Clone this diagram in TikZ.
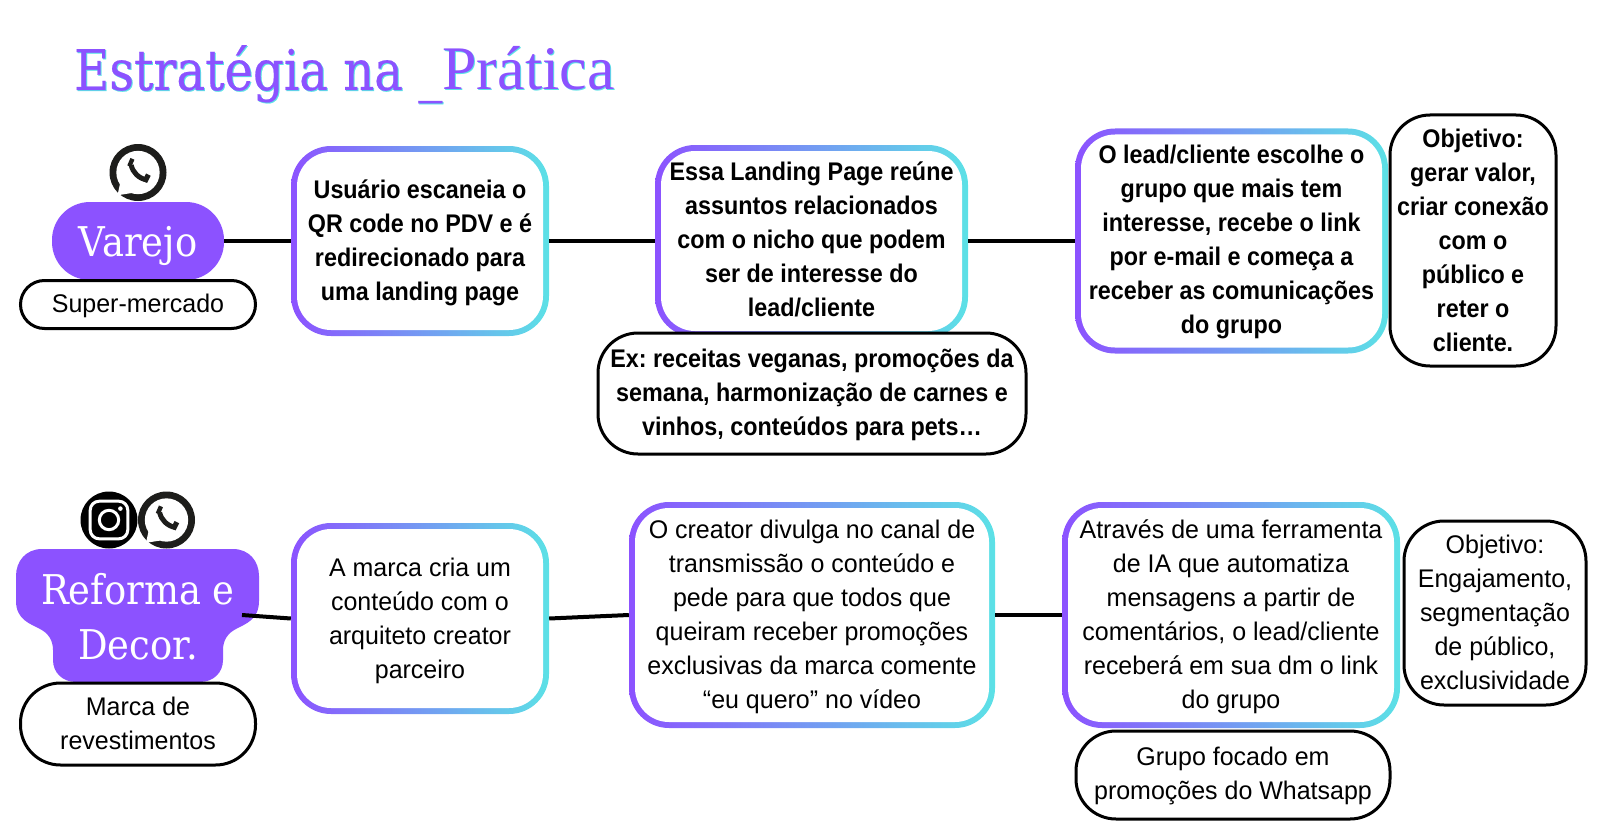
\documentclass[tikz,border=0pt]{standalone}
\usepackage{fontspec}
\setmainfont[FakeStretch=0.98,BoldFeatures={FakeStretch=0.915}]{Liberation Sans}
\newfontfamily\slabfont[FakeStretch=0.9]{DejaVu Serif}
\newfontfamily\slabhead[FakeStretch=0.86,FakeBold=0.4]{DejaVu Serif}
\newfontfamily\slablight{Liberation Serif}
\frenchspacing
\definecolor{purp}{HTML}{8C52FF}
\definecolor{cyanb}{HTML}{5CE1E6}
\definecolor{inkblack}{HTML}{1D1D1B}

\tikzset{
	txt/.style={font=\fontsize{25.5}{34}\selectfont, align=center},
	txtb/.style={font=\fontsize{25.5}{34}\selectfont\bfseries, align=center},
	gradout/.style={rectangle, rounded corners=40pt, left color=purp, right color=cyanb, inner sep=0pt},
	gradin/.style={rectangle, rounded corners=34pt, fill=white, inner sep=0pt},
	blackbox/.style={draw=black, line width=3pt, rounded corners=#1, fill=white, inner sep=0pt},
	tagbox/.style={fill=purp, text=white, font=\slabfont\fontsize{41}{54}\selectfont, align=center, inner sep=0pt},
	link/.style={line width=4pt},
	pics/whatsapp/.style={code={
		\fill[inkblack] (0,0) circle (1);
		\fill[white] (0,0) circle (.76);
		\fill[white] (-.62,.35)--(-.72,.8)--(-.22,.72)--cycle;
		\draw[inkblack, line width=5pt] (-.24,-.26) .. controls (-.18,0) and (.02,.2) .. (.3,.26);
		\draw[inkblack, line width=8pt] (-.32,-.38)--(-.18,-.32);
		\draw[inkblack, line width=8pt] (.22,.16)--(.38,.24);
	}},
	pics/instagram/.style={code={
		\fill[black] (0,0) circle (1);
		\draw[white, line width=3pt, rounded corners=9pt] (-.66,-.66) rectangle (.66,.66);
		\draw[white, line width=3pt] (0,0) circle (.34);
		\fill[white] (.4,-.4) circle (.08);
	}}
}

% Box with a two-colour frame: name, x, y, width, height, text style, text
\newcommand{\gradnode}[7]{
	\node[gradout, minimum width=#4pt, minimum height=#5pt] (#1) at (#2,#3) {};
	\node[gradin, minimum width=#4pt-12pt, minimum height=#5pt-12pt] (#1in) at (#1) {};
	\node[#6, inner sep=0pt] (#1text) at (#1) {#7};
}

\begin{document}
\begin{tikzpicture}[x=1pt,y=-1pt]
\useasboundingbox (0,0) rectangle (1600,840);

% Heading, the pale copy sits behind
\node[anchor=base west, text=cyanb, inner sep=0pt, font=\fontsize{56}{60}\selectfont] (headshadow) at (75,91) {\slabhead Estratégia na \_\slablight\fontsize{62}{60}\selectfont Prática};
\node[anchor=base west, text=purp, inner sep=0pt, font=\fontsize{56}{60}\selectfont] (head) at (74,90) {\slabhead Estratégia na \_\slablight\fontsize{62}{60}\selectfont Prática};

% First row
\pic[scale=28.5] at (138,172.5) {whatsapp};
\node[tagbox, rounded corners=38pt, minimum width=172pt, minimum height=78pt] (varejo) at (138,241) {\raisebox{-15.5pt}[0pt][0pt]{Varejo}};
\node[blackbox=24pt, minimum width=235pt, minimum height=48pt] (mercado) at (138,304.5) {};
\node[txt, inner sep=0pt, yshift=-1pt] (mercadotext) at (mercado) {Super-mercado};

\gradnode{usuario}{420}{241}{258}{190}{txtb, yshift=-2pt}{Usuário escaneia o\\QR code no PDV e é\\redirecionado para\\uma landing page}
\gradnode{landing}{811.5}{241}{313}{192}{txtb, yshift=2pt}{Essa Landing Page reúne\\assuntos relacionados\\com o nicho que podem\\ser de interesse do\\lead/cliente}
\gradnode{grupo}{1231.5}{241}{313}{225}{txtb, yshift=-1pt}{O lead/cliente escolhe o\\grupo que mais tem\\interesse, recebe o link\\por e-mail e começa a\\receber as comunicações\\do grupo}
\node[blackbox=40pt, txtb, minimum width=166pt, minimum height=251pt] (objetivo) at (1473,240.5) {Objetivo:\\gerar valor,\\criar conexão\\com o\\público e\\reter o\\cliente.};
\node[blackbox=40pt, minimum width=428pt, minimum height=121pt] (exemplo) at (812,393.5) {};
\node[txtb, inner sep=0pt, yshift=-1pt] (exemplotext) at (exemplo) {Ex: receitas veganas, promoções da\\semana, harmonização de carnes e\\vinhos, conteúdos para pets…};

\foreach \a/\b in {varejo/usuario,usuario/landing,landing/grupo}
	\draw[link] (\a)--(\b);

% Second row
\pic[scale=28.5] at (109,520) {instagram};
\pic[scale=28.5] at (166.5,520) {whatsapp};
\fill[purp] (42,549) -- (233,549) .. controls (249,549) and (259,561) .. (259,576)
	-- (259,601) .. controls (259,620) and (245,624) .. (236,629)
	.. controls (228,633) and (223,640) .. (223,650)
	-- (223,660) .. controls (223,673) and (213,682) .. (200,682)
	-- (76,682) .. controls (63,682) and (53,673) .. (53,660)
	-- (53,650) .. controls (53,640) and (48,633) .. (40,629)
	.. controls (31,624) and (16,620) .. (16,601)
	-- (16,576) .. controls (16,561) and (26,549) .. (42,549) -- cycle;
\node[text=white, font=\slabfont\fontsize{41}{55}\selectfont, align=center, inner sep=0pt] (reforma) at (138,617) {Reforma e\\Decor.};
\node[blackbox=40pt, minimum width=235pt, minimum height=82pt] (marca) at (138,724) {};
\node[txt, inner sep=0pt, yshift=1pt] (marcatext) at (marca) {Marca de\\revestimentos};

\gradnode{conteudo}{420}{618.5}{258}{191}{txt, yshift=-2pt}{A marca cria um\\conteúdo com o\\arquiteto creator\\parceiro}
\gradnode{creator}{812}{615}{366}{226}{txt, yshift=-2pt}{O creator divulga no canal de\\transmissão o conteúdo e\\pede para que todos que\\queiram receber promoções\\exclusivas da marca comente\\“eu quero” no vídeo}
\gradnode{ferramenta}{1231}{615}{338}{226}{txt, yshift=-2pt}{Através de uma ferramenta\\de IA que automatiza\\mensagens a partir de\\comentários, o lead/cliente\\receberá em sua dm o link\\do grupo}
\node[blackbox=40pt, minimum width=182pt, minimum height=184pt] (engaja) at (1495,613) {};
\node[txt, inner sep=0pt, yshift=1pt] (engajatext) at (engaja) {Objetivo:\\Engajamento,\\segmentação\\de público,\\exclusividade};
\node[blackbox=40pt, minimum width=314pt, minimum height=88pt] (promo) at (1233,775) {};
\node[txt, inner sep=0pt, yshift=-1pt] (promotext) at (promo) {Grupo focado em\\promoções do Whatsapp};

\coordinate (refout) at (242,615);
\draw[link] (refout)--(conteudo.west);
\foreach \a/\b in {conteudo/creator,creator/ferramenta}
	\draw[link] (\a.east)--(\b.west);

\end{tikzpicture}
\end{document}
